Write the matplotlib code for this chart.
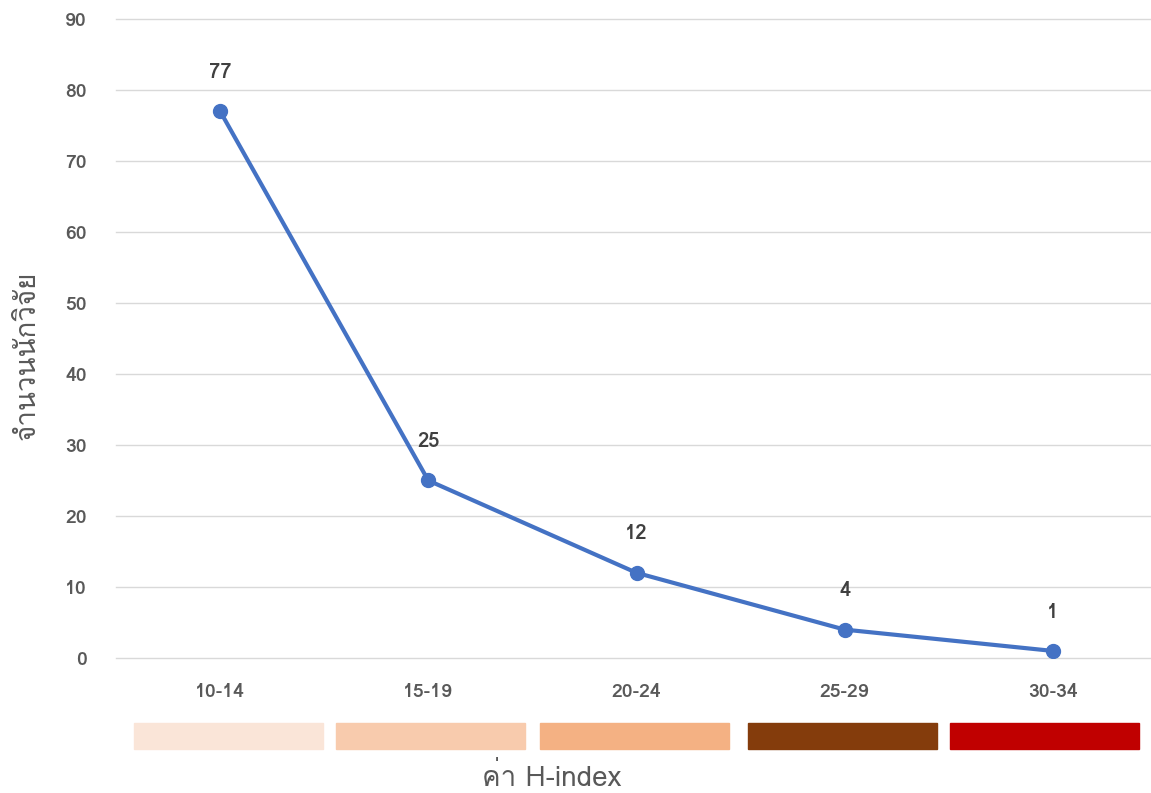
import matplotlib

matplotlib.use("Agg")
import matplotlib.pyplot as plt
from matplotlib import font_manager
from matplotlib.ft2font import FT2Font
from matplotlib.patches import Rectangle
from matplotlib.transforms import blended_transform_factory

categories = ["10-14", "15-19", "20-24", "25-29", "30-34"]
researchers = [77, 25, 12, 4, 1]
band_colors = ["#FAE5D8", "#F8CBAD", "#F4B183", "#843C0C", "#C00000"]

LINE = "#4472C4"
TICK = "#595959"
LABEL = "#404040"
GRID = "#D9D9D9"


def thai_family():
    """Pick an installed family that actually has Thai glyphs."""
    seen = set()
    for fe in font_manager.fontManager.ttflist:
        if fe.name in seen:
            continue
        seen.add(fe.name)
        try:
            if 0x0E08 in FT2Font(fe.fname).get_charmap():
                return fe.name
        except Exception:
            pass
    return None


fam = thai_family()
plt.rcParams["font.family"] = ([fam] if fam else []) + ["DejaVu Sans"]

fig = plt.figure(figsize=(11.51, 7.93), dpi=100)
ax = fig.add_axes([116 / 1151, 0.1702, 1041 / 1151, 0.806])

x = list(range(len(categories)))
ax.plot(x, researchers, color=LINE, linewidth=3, marker="o", markersize=10, zorder=3)
for xi, v in zip(x, researchers):
    ax.annotate(str(v), xy=(xi, v), xytext=(0, 28), textcoords="offset points",
                ha="center", va="center", fontsize=14.5, fontweight="bold", color=LABEL)

ax.set_xlim(-0.5, 4.5)
ax.set_ylim(0, 90)
ax.set_yticks(range(0, 91, 10))
ax.set_xticks(x)
ax.set_xticklabels(categories)
ax.grid(axis="y", color=GRID, linewidth=1)
for gl in ax.get_ygridlines():
    gl.set_clip_on(False)
ax.set_axisbelow(True)
for s in ax.spines.values():
    s.set_visible(False)
ax.tick_params(length=0, labelsize=14, colors=TICK)
for lab in ax.get_xticklabels() + ax.get_yticklabels():
    lab.set_fontweight("bold")
ax.tick_params(axis="y", pad=21)
ax.tick_params(axis="x", pad=18)

# coloured H-index bands under the category labels
trans = blended_transform_factory(ax.transData, fig.transFigure)
band_offsets = [0.04, 0.01, -0.01, -0.01, -0.04]
for xi, c, off in zip(x, band_colors, band_offsets):
    ax.add_patch(Rectangle((xi + off - 0.453, 1 - 749 / 793), 0.906, 26 / 793,
                           transform=trans, color=c, clip_on=False))

fig.text(552 / 1151, 1 - 777 / 793, "ค่า H-index", ha="center", va="center",
         fontsize=20, color=TICK)
fig.text(28 / 1151, 1 - 355 / 793, "จำนวนนักวิจัย", ha="center", va="center",
         rotation=90, fontsize=20, color=TICK)

fig.savefig("out.png", dpi=100, facecolor="white")
